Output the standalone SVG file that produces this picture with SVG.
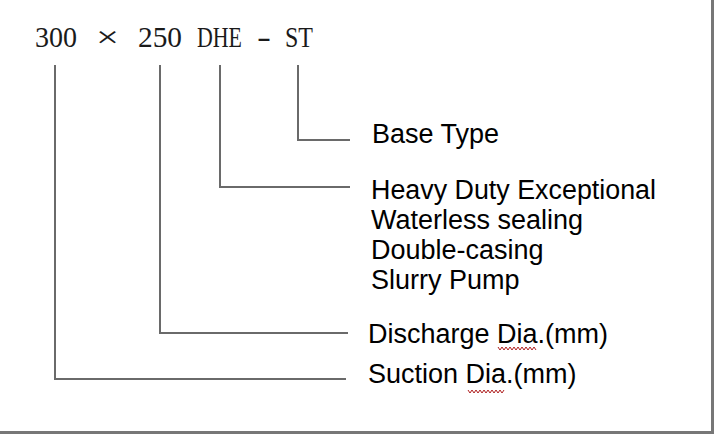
<svg xmlns="http://www.w3.org/2000/svg" width="714" height="434" viewBox="0 0 714 434">
<style>
.code{font-family:"Liberation Serif","Times New Roman",serif;font-size:29px;fill:#1a1a1a}
.lbl{font-family:"Liberation Sans",Arial,sans-serif;font-size:27px;fill:#000}
.ln{fill:none;stroke:#6a6a6a;stroke-width:2}
.sq{fill:none;stroke:#b02020;stroke-width:1}
</style>
<rect x="0" y="0" width="714" height="434" fill="#fff"/>
<rect x="711" y="0" width="3" height="434" fill="#777"/>
<rect x="0" y="431" width="714" height="3" fill="#777"/>
<g id="code">
<text class="code" x="35" y="47" textLength="42" lengthAdjust="spacingAndGlyphs">300</text>
<text class="code" x="96" y="47" textLength="23" lengthAdjust="spacingAndGlyphs" font-size="32">×</text>
<text class="code" x="138" y="47" textLength="44" lengthAdjust="spacingAndGlyphs">250</text>
<text class="code" x="197" y="47" textLength="45" lengthAdjust="spacingAndGlyphs">DHE</text>
<text class="code" x="257" y="47" textLength="14" lengthAdjust="spacingAndGlyphs">-</text>
<text class="code" x="285" y="47" textLength="28" lengthAdjust="spacingAndGlyphs">ST</text>
</g>
<g id="connectors">
<polyline class="ln" points="55,65 55,379 346,379"/>
<polyline class="ln" points="160,65 160,333 348,333"/>
<polyline class="ln" points="220,65 220,187 350,187"/>
<polyline class="ln" points="298,65 298,140 350,140"/>
</g>
<g id="node-base">
<text class="lbl" x="372" y="143">Base Type</text>
</g>
<g id="node-dhe">
<text class="lbl" x="371" y="199" textLength="285" lengthAdjust="spacingAndGlyphs">Heavy Duty Exceptional</text>
<text class="lbl" x="371" y="229">Waterless sealing</text>
<text class="lbl" x="371" y="259">Double-casing</text>
<text class="lbl" x="371" y="288.5">Slurry Pump</text>
</g>
<g id="node-discharge">
<text class="lbl" x="368" y="343">Discharge Dia.(mm)</text>
<polyline class="sq" points="498,347 500,350 502,347 504,350 506,347 508,350 510,347 512,350 514,347 516,350 518,347 520,350 522,347 524,350 526,347 528,350 530,347 532,350 534,347 536,350"/>
</g>
<g id="node-suction">
<text class="lbl" x="368" y="383">Suction Dia.(mm)</text>
<polyline class="sq" points="468,390 470,393 472,390 474,393 476,390 478,393 480,390 482,393 484,390 486,393 488,390 490,393 492,390 494,393 496,390 498,393 500,390 502,393 504,390"/>
</g>
</svg>
